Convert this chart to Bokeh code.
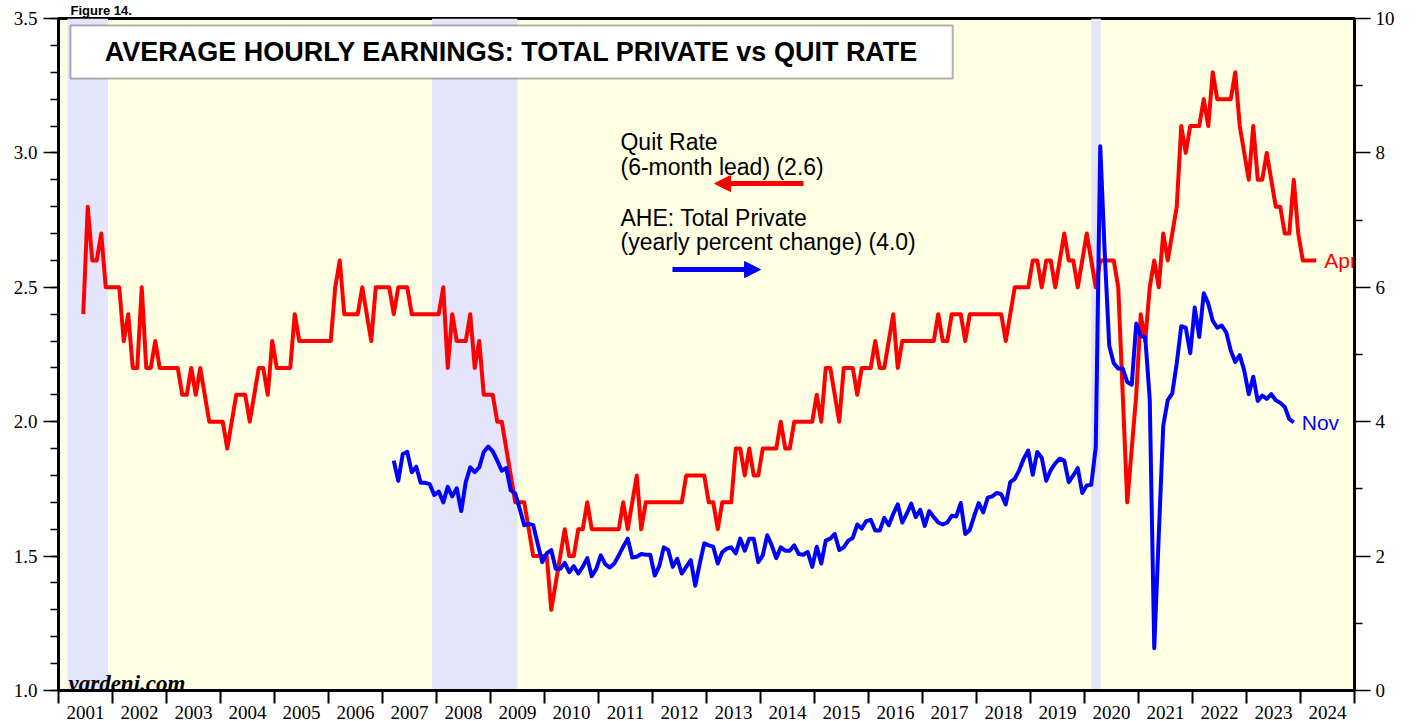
from bokeh.plotting import figure
from bokeh.models import (Range1d, LinearAxis, FixedTicker, BoxAnnotation, Label,
                          Arrow, NormalHead, PrintfTickFormatter)
from bokeh.embed import file_html
from bokeh.resources import INLINE
from bokeh.core.properties import value

# ---------------- data ----------------
# Quit rate, 6-month lead (left axis), monthly from Jun 2001 to Apr 2024
quit_start = (2001, 6)
quit_rate = [
    2.4, 2.8, 2.6, 2.6, 2.7, 2.5, 2.5,                              # 2001 Jun-Dec
    2.5, 2.5, 2.3, 2.4, 2.2, 2.2, 2.5, 2.2, 2.2, 2.3, 2.2, 2.2,     # 2002
    2.2, 2.2, 2.2, 2.1, 2.1, 2.2, 2.1, 2.2, 2.1, 2.0, 2.0, 2.0,     # 2003
    2.0, 1.9, 2.0, 2.1, 2.1, 2.1, 2.0, 2.1, 2.2, 2.2, 2.1, 2.3,     # 2004
    2.2, 2.2, 2.2, 2.2, 2.4, 2.3, 2.3, 2.3, 2.3, 2.3, 2.3, 2.3,     # 2005
    2.3, 2.5, 2.6, 2.4, 2.4, 2.4, 2.4, 2.5, 2.4, 2.3, 2.5, 2.5,     # 2006
    2.5, 2.5, 2.4, 2.5, 2.5, 2.5, 2.4, 2.4, 2.4, 2.4, 2.4, 2.4,     # 2007
    2.4, 2.5, 2.2, 2.4, 2.3, 2.3, 2.3, 2.4, 2.2, 2.3, 2.1, 2.1,     # 2008
    2.1, 2.0, 2.0, 1.9, 1.8, 1.7, 1.7, 1.7, 1.6, 1.5, 1.5, 1.5,     # 2009
    1.5, 1.3, 1.4, 1.5, 1.6, 1.5, 1.5, 1.6, 1.6, 1.7, 1.6, 1.6,     # 2010
    1.6, 1.6, 1.6, 1.6, 1.6, 1.7, 1.6, 1.7, 1.8, 1.6, 1.7, 1.7,     # 2011
    1.7, 1.7, 1.7, 1.7, 1.7, 1.7, 1.7, 1.8, 1.8, 1.8, 1.8, 1.8,     # 2012
    1.7, 1.7, 1.6, 1.7, 1.7, 1.7, 1.9, 1.9, 1.8, 1.9, 1.8, 1.8,     # 2013
    1.9, 1.9, 1.9, 1.9, 2.0, 1.9, 1.9, 2.0, 2.0, 2.0, 2.0, 2.0,     # 2014
    2.1, 2.0, 2.2, 2.2, 2.1, 2.0, 2.2, 2.2, 2.2, 2.1, 2.2, 2.2,     # 2015
    2.2, 2.3, 2.2, 2.2, 2.3, 2.4, 2.2, 2.3, 2.3, 2.3, 2.3, 2.3,     # 2016
    2.3, 2.3, 2.3, 2.4, 2.3, 2.3, 2.4, 2.4, 2.4, 2.3, 2.4, 2.4,     # 2017
    2.4, 2.4, 2.4, 2.4, 2.4, 2.4, 2.3, 2.4, 2.5, 2.5, 2.5, 2.5,     # 2018
    2.6, 2.6, 2.5, 2.6, 2.6, 2.5, 2.6, 2.7, 2.6, 2.6, 2.5, 2.6,     # 2019
    2.7, 2.6, 2.5, 2.6, 2.6, 2.6, 2.6, 2.5, 2.1, 1.7, 1.9, 2.1,     # 2020
    2.4, 2.3, 2.5, 2.6, 2.5, 2.7, 2.6, 2.7, 2.8, 3.1, 3.0, 3.1,     # 2021
    3.1, 3.1, 3.2, 3.1, 3.3, 3.2, 3.2, 3.2, 3.2, 3.3, 3.1, 3.0,     # 2022
    2.9, 3.1, 2.9, 2.9, 3.0, 2.9, 2.8, 2.8, 2.7, 2.7, 2.9, 2.7,     # 2023
    2.6, 2.6, 2.6, 2.6,                                             # 2024 Jan-Apr
]

# Average hourly earnings, total private, yoy % (right axis), Mar 2007 to Nov 2023
ahe_start = (2007, 3)
ahe = [
    3.42, 3.12, 3.52, 3.55, 3.25, 3.33, 3.09, 3.09, 3.07, 2.91,                 # 2007 Mar-Dec
    2.96, 2.80, 3.03, 2.89, 3.01, 2.67, 3.10, 3.32, 3.25, 3.32, 3.55, 3.63,     # 2008
    3.56, 3.42, 3.27, 3.31, 2.98, 2.93, 2.70, 2.46, 2.48, 2.46, 2.18, 1.91,     # 2009
    2.04, 2.09, 1.81, 1.81, 1.90, 1.76, 1.85, 1.74, 1.84, 1.97, 1.70, 1.81,     # 2010
    2.01, 1.88, 1.83, 1.89, 2.01, 2.14, 2.26, 1.98, 1.99, 2.03, 2.02, 2.02,     # 2011
    1.71, 1.85, 2.13, 2.09, 1.84, 1.96, 1.74, 1.84, 1.94, 1.56, 1.89, 2.19,     # 2012
    2.16, 2.14, 1.89, 2.06, 2.11, 2.13, 2.04, 2.26, 2.08, 2.26, 2.26, 1.91,     # 2013
    2.01, 2.31, 2.16, 1.97, 2.13, 2.08, 2.08, 2.16, 2.03, 2.02, 2.06, 1.84,     # 2014
    2.14, 1.89, 2.23, 2.26, 2.33, 2.09, 2.13, 2.23, 2.27, 2.47, 2.41, 2.52,     # 2015
    2.54, 2.38, 2.38, 2.57, 2.46, 2.63, 2.77, 2.50, 2.63, 2.78, 2.58, 2.69,     # 2016
    2.45, 2.67, 2.58, 2.50, 2.47, 2.50, 2.60, 2.59, 2.79, 2.33, 2.39, 2.60,     # 2017
    2.79, 2.65, 2.87, 2.89, 2.94, 2.92, 2.77, 3.10, 3.15, 3.28, 3.45, 3.57,     # 2018
    3.21, 3.55, 3.46, 3.12, 3.28, 3.38, 3.45, 3.42, 3.10, 3.20, 3.31, 2.94,     # 2019
    3.05, 3.06, 3.62, 8.10, 6.50, 5.13, 4.87, 4.79, 4.79, 4.59, 4.55, 5.46,     # 2020
    5.27, 5.26, 4.33, 0.63, 2.30, 3.94, 4.32, 4.42, 4.87, 5.42, 5.40, 5.02,     # 2021
    5.70, 5.26, 5.91, 5.76, 5.50, 5.40, 5.43, 5.33, 5.06, 4.89, 4.99, 4.76,     # 2022
    4.41, 4.67, 4.31, 4.39, 4.34, 4.41, 4.32, 4.28, 4.22, 4.04, 3.99,           # 2023 Jan-Nov
]

years = list(range(2001, 2025))
year_labels = [str(y) for y in years]
left_ticks = [1.0, 1.5, 2.0, 2.5, 3.0, 3.5]
left_minor = [round(1.0 + 0.1 * k, 1) for k in range(26)]
right_ticks = [0, 2, 4, 6, 8, 10]
right_minor = [1, 3, 5, 7, 9]
recessions = [(2001.167, 2001.917), (2007.917, 2009.5), (2020.125, 2020.30)]

fig_text = "Figure 14."
title_text = "AVERAGE HOURLY EARNINGS: TOTAL PRIVATE vs QUIT RATE"
legend_quit = ["Quit Rate", "(6-month lead) (2.6)"]
legend_ahe = ["AHE: Total Private", "(yearly percent change) (4.0)"]
end_quit = "Apr"
end_ahe = "Nov"

RED = "#ff0000"
BLUE = "#0000ff"
SERIF = "Liberation Serif"
SANS = "Liberation Sans"


def month_x(start, n):
    y0, m0 = start
    return [y0 + (m0 - 1 + k + 0.5) / 12.0 for k in range(n)]


qx = month_x(quit_start, len(quit_rate))
hx = month_x(ahe_start, len(ahe))

# ---------------- figure ----------------
p = figure(width=1419, height=721, x_range=Range1d(2001, 2025), y_range=Range1d(1.0, 3.5),
           output_backend="svg", toolbar_location=None,
           min_border_left=58, min_border_right=65, min_border_top=18, min_border_bottom=31)
p.extra_y_ranges = {"ahe": Range1d(0, 10)}
p.xgrid.visible = False
p.ygrid.visible = False
p.background_fill_color = "#ffffe3"
p.border_fill_color = "white"
p.outline_line_color = "black"
p.outline_line_width = 3

# figure caption in the thin strip above the frame
p.title.text = fig_text
p.title.text_font = SANS
p.title.text_font_size = "13px"
p.title.text_font_style = "bold"
p.title.text_color = "black"
p.title.align = "left"
p.title.offset = 12
p.title.standoff = 1

# recession shading
for a, b in recessions:
    p.add_layout(BoxAnnotation(left=a, right=b, fill_color="#e4e4fb", fill_alpha=1.0,
                               line_alpha=0, level="underlay"))

# lines
p.line(qx, quit_rate, line_color=RED, line_width=4, line_join="round")
p.line(hx, ahe, line_color=BLUE, line_width=4, line_join="round", y_range_name="ahe")

# end labels (clipped to the frame like the original)
p.text(x=[qx[-1]], y=[quit_rate[-1]], text=[end_quit], x_offset=8, text_color=RED,
       text_font=value(SANS), text_font_size="21px", text_baseline="middle", text_align="left")
p.text(x=[hx[-1]], y=[ahe[-1]], text=[end_ahe], x_offset=8, text_color=BLUE,
       text_font=value(SANS), text_font_size="21px", text_baseline="middle", text_align="left",
       y_range_name="ahe")

# bottom axis: year boundaries as (minor) ticks, labels mid-year
xa = p.xaxis[0]
xa.ticker = FixedTicker(ticks=[y + 0.5 for y in years], minor_ticks=years + [2025])
xa.major_label_overrides = {y + 0.5: lab for y, lab in zip(years, year_labels)}
xa.major_tick_out = 0
xa.major_tick_in = 0
xa.minor_tick_out = 13
xa.minor_tick_in = 0
xa.minor_tick_line_width = 2
xa.minor_tick_line_color = "black"
xa.axis_line_width = 3
xa.axis_line_color = "black"
xa.major_label_standoff = 2
xa.major_label_text_font = SERIF
xa.major_label_text_font_size = "19px"
xa.major_label_text_color = "black"

# left axis
ya = p.yaxis[0]
ya.ticker = FixedTicker(ticks=left_ticks, minor_ticks=left_minor)
ya.formatter = PrintfTickFormatter(format="%.1f")
ya.axis_line_width = 3
ya.axis_line_color = "black"
ya.major_tick_out = 15
ya.major_tick_in = 0
ya.major_tick_line_width = 1.5
ya.minor_tick_out = 8
ya.minor_tick_in = 0
ya.minor_tick_line_width = 1.5
ya.major_label_standoff = 6
ya.major_label_text_font = SERIF
ya.major_label_text_font_size = "19px"
ya.major_label_text_color = "black"

# right axis
yr = LinearAxis(y_range_name="ahe", ticker=FixedTicker(ticks=right_ticks, minor_ticks=right_minor))
yr.axis_line_width = 3
yr.axis_line_color = "black"
yr.major_tick_out = 16
yr.major_tick_in = 0
yr.major_tick_line_width = 1.5
yr.minor_tick_out = 8
yr.minor_tick_in = 0
yr.minor_tick_line_width = 1.5
yr.major_label_standoff = 5
yr.major_label_text_font = SERIF
yr.major_label_text_font_size = "19px"
yr.major_label_text_color = "black"
p.add_layout(yr, "right")

# title box
p.add_layout(BoxAnnotation(left=2001.222, right=2017.56, top=3.474, bottom=3.277,
                           fill_color="white", fill_alpha=1.0, line_color="black",
                           line_width=2))
p.add_layout(Label(x=2009.39, y=3.3755, text=title_text, text_align="center",
                   text_baseline="middle", text_font=SANS, text_font_size="27px",
                   text_font_style="bold", text_color="black"))

# legend texts and arrows
for txt, yy in zip(legend_quit, [3.0387, 2.9457]):
    p.add_layout(Label(x=2011.407, y=yy, text=txt, text_font=SANS, text_font_size="23px",
                       text_color="black", text_baseline="alphabetic"))
for txt, yy in zip(legend_ahe, [2.756, 2.6667]):
    p.add_layout(Label(x=2011.407, y=yy, text=txt, text_font=SANS, text_font_size="23px",
                       text_color="black", text_baseline="alphabetic"))
p.add_layout(Arrow(end=NormalHead(size=16, fill_color=RED, line_color=RED),
                   x_start=2014.796, y_start=2.886, x_end=2013.15, y_end=2.886,
                   line_color=RED, line_width=5))
p.add_layout(Arrow(end=NormalHead(size=16, fill_color=BLUE, line_color=BLUE),
                   x_start=2012.37, y_start=2.566, x_end=2014.0, y_end=2.566,
                   line_color=BLUE, line_width=5))

# watermark
p.add_layout(Label(x=2001.185, y=1.026, text="yardeni.com", text_font=SERIF,
                   text_font_size="23px", text_font_style="bold italic", text_color="black",
                   text_baseline="alphabetic"))

open("out.html", "w").write(file_html(p, INLINE))
